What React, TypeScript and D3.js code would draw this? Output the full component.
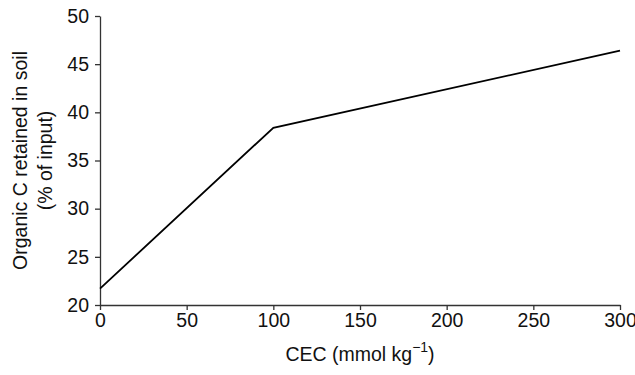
import { useEffect, useRef } from "react";
import * as d3 from "d3";

const cec = [0, 100, 300];
const retained = [21.7, 38.4, 46.4];
const xTicks = [0, 50, 100, 150, 200, 250, 300];
const yTicks = [20, 25, 30, 35, 40, 45, 50];

export default function App() {
  const svgRef = useRef<SVGSVGElement>(null);

  useEffect(() => {
    if (!svgRef.current) return;
    const svg = d3.select(svgRef.current);
    svg.selectAll("*").remove();

    const width = 635;
    const height = 375;

    const x = d3.scaleLinear().domain([0, 300]).range([100, 620]);
    const y = d3.scaleLinear().domain([20, 50]).range([305, 16]);

    const font = "'Liberation Sans', Arial, sans-serif";
    const fs = "19.5px";

    // X axis
    const xa = svg
      .append("g")
      .attr("transform", `translate(0,${y(20)})`)
      .call(d3.axisBottom(x).tickValues(xTicks).tickSize(5).tickSizeOuter(0).tickPadding(3));
    xa.selectAll("text").style("font-family", font).style("font-size", fs).attr("fill", "#111");
    xa.selectAll("line, path").attr("stroke", "#333").attr("stroke-width", 1.3);

    // Y axis
    const ya = svg
      .append("g")
      .attr("transform", `translate(${x(0)},0)`)
      .call(d3.axisLeft(y).tickValues(yTicks).tickSize(5).tickSizeOuter(0).tickPadding(6));
    ya.selectAll("text").style("font-family", font).style("font-size", fs).attr("fill", "#111");
    ya.selectAll("line, path").attr("stroke", "#333").attr("stroke-width", 1.3);

    // Line
    const pts = cec.map((c, i) => [c, retained[i]] as [number, number]);
    const line = d3
      .line<[number, number]>()
      .x((d) => x(d[0]))
      .y((d) => y(d[1]));
    svg
      .append("path")
      .datum(pts)
      .attr("fill", "none")
      .attr("stroke", "#000")
      .attr("stroke-width", 1.8)
      .attr("d", line);

    // Y title
    const yt = svg
      .append("text")
      .attr("transform", `translate(27,${(y(20) + y(50)) / 2}) rotate(-90)`)
      .attr("text-anchor", "middle")
      .style("font-family", font)
      .style("font-size", fs)
      .attr("fill", "#111");
    yt.append("tspan").attr("x", 0).attr("dy", 0).text("Organic C retained in soil");
    yt.append("tspan").attr("x", 0).attr("dy", 25).text("(% of input)");

    // X title
    const xt = svg
      .append("text")
      .attr("x", (x(0) + x(300)) / 2)
      .attr("y", 361)
      .attr("text-anchor", "middle")
      .style("font-family", font)
      .style("font-size", fs)
      .attr("fill", "#111");
    xt.append("tspan").text("CEC (mmol kg");
    xt.append("tspan").attr("dy", -9).style("font-size", "14px").text("\u22121");
    xt.append("tspan").attr("dy", 9).text(")");

    svg.attr("width", width).attr("height", height);
  }, []);

  return (
    <svg
      ref={svgRef}
      width={635}
      height={375}
      style={{ position: "absolute", left: 0, top: 0, background: "#fff" }}
    />
  );
}
